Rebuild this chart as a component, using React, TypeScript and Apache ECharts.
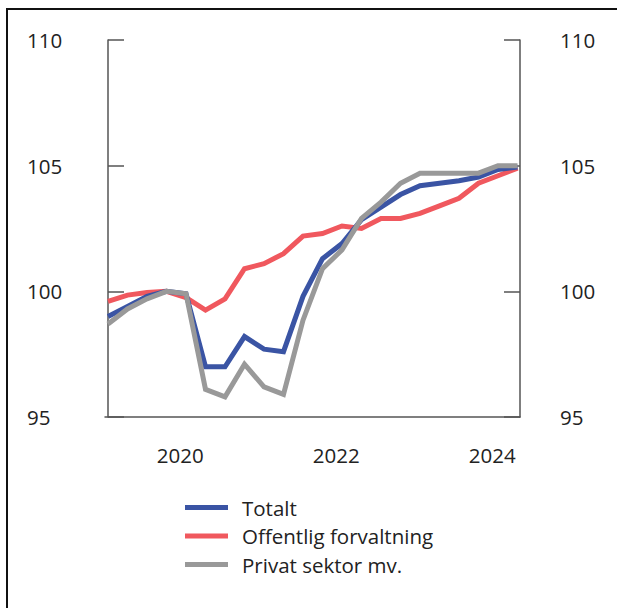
import React, { useEffect, useRef } from "react";
import * as echarts from "echarts";

const quarters = [
  "2019K1", "2019K2", "2019K3", "2019K4",
  "2020K1", "2020K2", "2020K3", "2020K4",
  "2021K1", "2021K2", "2021K3", "2021K4",
  "2022K1", "2022K2", "2022K3", "2022K4",
  "2023K1", "2023K2", "2023K3", "2023K4",
  "2024K1", "2024K2",
];
const totalt = [99.0, 99.4, 99.8, 100.0, 99.9, 97.0, 97.0, 98.2, 97.7, 97.6, 99.8, 101.3, 101.9, 102.85, 103.35, 103.85, 104.2, 104.3, 104.4, 104.55, 104.85, 104.95];
const offentlig = [99.6, 99.85, 99.95, 100.0, 99.75, 99.25, 99.7, 100.9, 101.1, 101.5, 102.2, 102.3, 102.6, 102.5, 102.9, 102.9, 103.1, 103.4, 103.7, 104.3, 104.6, 104.9];
const privat = [98.7, 99.3, 99.7, 100.0, 99.9, 96.1, 95.8, 97.1, 96.2, 95.9, 98.85, 100.9, 101.65, 102.9, 103.55, 104.3, 104.7, 104.7, 104.7, 104.7, 105.0, 105.0];
const yearLabels = ["2020", "2022", "2024"];
const seriesNames = ["Totalt", "Offentlig forvaltning", "Privat sektor mv."];
const colors = ["#3a54a4", "#f0585e", "#999999"];

const FONT = "Open Sans";
const FS = 20.5;

export default function App() {
  const ref = useRef<HTMLDivElement>(null);
  useEffect(() => {
    if (!ref.current) return;
    const chart = echarts.init(ref.current, undefined, { renderer: "svg" });
    const labelPos = yearLabels.map((y) => quarters.indexOf(y + "K1") - 0.3);
    const mk = (vals: number[]) => vals.map((v, i) => [i, v]);
    const axisColor = "#555";
    const yAxisBase = {
      type: "value",
      min: 95,
      max: 110,
      interval: 5,
      axisLine: { show: true, lineStyle: { color: axisColor, width: 1.5 } },
      axisTick: { show: true, inside: true, length: 16, lineStyle: { color: axisColor, width: 1.5 } },
      splitLine: { show: false },
    };
    chart.setOption({
      animation: false,
      textStyle: { fontFamily: FONT },
      grid: { left: 105, right: 97, top: 40, bottom: 191 },
      xAxis: {
        type: "value",
        min: -0.154,
        max: 21.128,
        axisLine: { show: true, onZero: false, lineStyle: { color: axisColor, width: 1.5 } },
        axisTick: { show: false },
        splitLine: { show: false },
        axisLabel: {
          customValues: labelPos,
          formatter: (v: number) => {
            const k = labelPos.findIndex((p) => Math.abs(p - v) < 0.01);
            return k >= 0 ? yearLabels[k] : "";
          },
          margin: 27,
          fontSize: FS,
          color: "#222",
          fontFamily: FONT,
        },
      },
      yAxis: [
        {
          ...yAxisBase,
          position: "left",
          axisLabel: { align: "left", margin: 78, fontSize: FS, color: "#222", fontFamily: FONT },
        },
        {
          ...yAxisBase,
          position: "right",
          axisLabel: { align: "left", margin: 40, fontSize: FS, color: "#222", fontFamily: FONT },
        },
      ],
      legend: {
        orient: "vertical",
        left: 185,
        top: 497,
        padding: 0,
        icon: "rect",
        itemWidth: 43,
        itemHeight: 5,
        itemGap: 7.5,
        textStyle: { fontSize: FS, color: "#222", fontFamily: FONT, lineHeight: 21, padding: [0, 0, 0, 9] },
        data: seriesNames,
      },
      graphic: [
        {
          type: "polyline",
          shape: { points: [[7, 620], [7, 9], [630, 9]] },
          style: { stroke: "#111", lineWidth: 2, fill: "none" },
          silent: true,
        },
      ],
      series: [
        { name: seriesNames[0], data: mk(totalt), color: colors[0] },
        { name: seriesNames[1], data: mk(offentlig), color: colors[1] },
        { name: seriesNames[2], data: mk(privat), color: colors[2] },
      ].map((s, i) => ({
        ...s,
        type: "line",
        showSymbol: false,
        symbol: "none",
        z: i === 0 ? 3 : i === 1 ? 2 : 4,
        lineStyle: { width: 5, color: colors[i], join: "miter" },
        itemStyle: { color: colors[i] },
      })),
    });
    return () => chart.dispose();
  }, []);
  return (
    <div
      ref={ref}
      style={{ position: "fixed", left: 0, top: 0, width: 617, height: 608, background: "#fff" }}
    />
  );
}
